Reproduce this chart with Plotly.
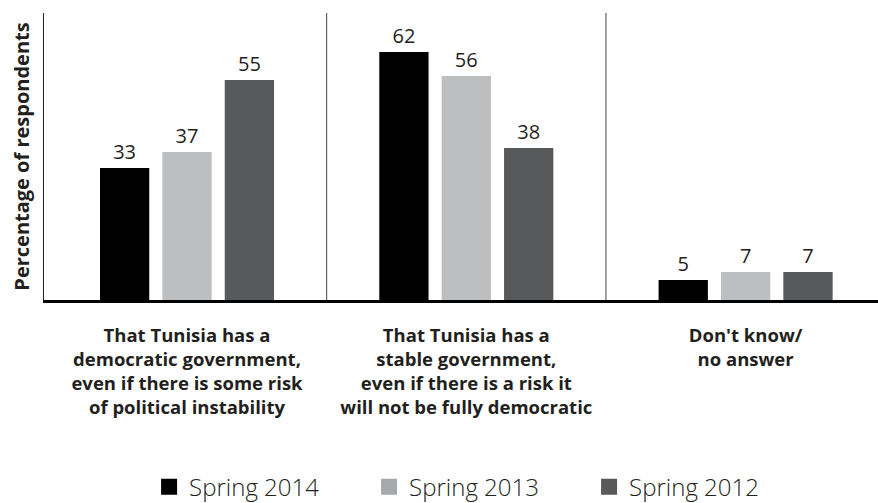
import plotly.graph_objects as go

categories = [
    "That Tunisia has a<br>democratic government,<br>even if there is some risk<br>of political instability",
    "That Tunisia has a<br>stable government,<br>even if there is a risk it<br>will not be fully democratic",
    "Don't know/<br>no answer",
]
series_names = ["Spring 2014", "Spring 2013", "Spring 2012"]
spring_2014 = [33, 62, 5]
spring_2013 = [37, 56, 7]
spring_2012 = [55, 38, 7]
series_values = [spring_2014, spring_2013, spring_2012]

bar_colors = ["#000000", "#bcbec0", "#58595b"]
legend_colors = ["#000000", "#a7a9ac", "#58595b"]

FONT = "Open Sans"

fig = go.Figure()
for name, vals, col in zip(series_names, series_values, bar_colors):
    fig.add_trace(go.Bar(
        x=categories, y=vals, name=name, marker=dict(color=col, line=dict(width=0)),
        text=vals, textposition="outside", cliponaxis=False,
        textfont=dict(family=FONT, size=20, color="#231f20", weight=400),
        showlegend=False,
    ))

# legend entries with larger square swatches
for name, col in zip(series_names, legend_colors):
    fig.add_trace(go.Scatter(
        x=[None], y=[None], mode="markers", name=name,
        marker=dict(symbol="square", size=19, color=col),
        showlegend=True,
    ))

fig.add_shape(type="line", xref="x", yref="paper", x0=0.5, x1=0.5, y0=0, y1=1,
              line=dict(color="#444444", width=1))
fig.add_shape(type="line", xref="x", yref="paper", x0=1.5, x1=1.5, y0=0, y1=1,
              line=dict(color="#444444", width=1))

fig.update_layout(
    width=878, height=503, autosize=False,
    margin=dict(l=44, r=0, t=13, b=203, autoexpand=False),
    paper_bgcolor="white", plot_bgcolor="white",
    barmode="group", bargap=0.33, bargroupgap=0.21,
    font=dict(family=FONT, color="#231f20"),
    showlegend=True,
    legend=dict(
        orientation="h", x=0.126, y=-0.652, xanchor="left", yanchor="middle",
        font=dict(family=FONT, size=24, color="#231f20", weight=300),
        entrywidth=175, entrywidthmode="pixels",
        bgcolor="rgba(0,0,0,0)", itemclick=False,
    ),
    xaxis=dict(
        type="category", categoryorder="array", categoryarray=categories,
        range=[-0.512, 2.474], showgrid=False, zeroline=False, automargin=False,
        showline=True, linecolor="#000000", linewidth=3,
        ticks="", ticklabelstandoff=17,
        tickfont=dict(family=FONT, size=18.5, color="#231f20", weight=700),
    ),
    yaxis=dict(
        range=[0, 71.75], showgrid=False, zeroline=False, automargin=False,
        showline=True, linecolor="#231f20", linewidth=1,
        showticklabels=False, ticks="",
        title=dict(text="Percentage of respondents", standoff=8,
                   font=dict(family=FONT, size=20, color="#231f20", weight=700)),
    ),
)

fig.write_html(
    "out.html",
    config={"displayModeBar": False},
    post_script="document.body.style.margin='0';document.body.style.overflow='hidden';",
)
